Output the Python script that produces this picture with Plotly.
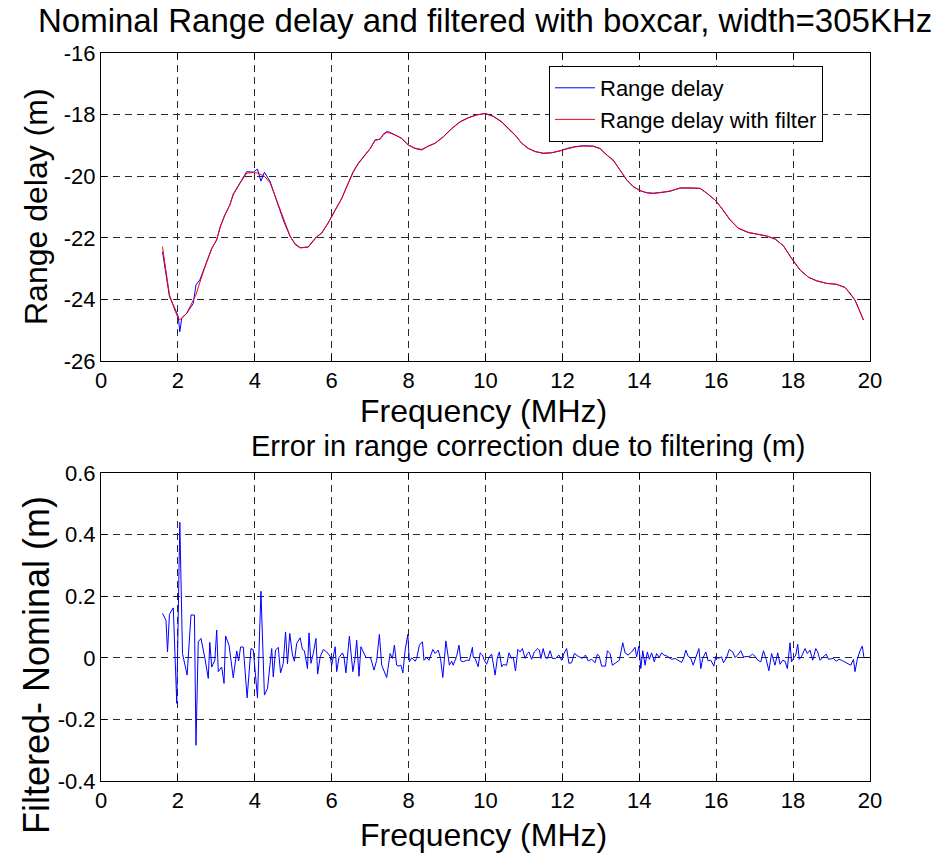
import plotly.graph_objects as go

# ---------------- data ----------------
freq_top = [1.60, 1.78, 1.92, 2.01, 2.05, 2.10, 2.23, 2.40, 2.47, 2.57, 2.70, 2.88, 3.01, 3.10, 3.22,
            3.35, 3.44, 3.61, 3.79, 3.96, 4.07, 4.16, 4.25, 4.40, 4.57, 4.74, 4.92, 5.05, 5.18, 5.39,
            5.48, 5.61, 5.74, 5.91, 6.09, 6.26, 6.39, 6.56, 6.69, 6.87, 7.00, 7.13, 7.26, 7.34, 7.43,
            7.52, 7.65, 7.82, 7.99, 8.17, 8.34, 8.51, 8.69, 8.90, 9.12, 9.34, 9.55, 9.77, 9.99, 10.20,
            10.42, 10.59, 10.77, 10.94, 11.11, 11.29, 11.50, 11.72, 11.94, 12.11, 12.33, 12.54, 12.80,
            12.98, 13.15, 13.32, 13.50, 13.67, 13.84, 14.02, 14.19, 14.36, 14.58, 14.80, 15.06, 15.32,
            15.58, 15.75, 15.97, 16.14, 16.36, 16.57, 16.83, 17.09, 17.31, 17.54, 17.75, 17.96, 18.18,
            18.40, 18.61, 18.87, 19.13, 19.35, 19.48, 19.61, 19.74, 19.83]

range_delay = [-22.45, -23.91, -24.29, -24.56, -25.05, -24.60, -24.45, -24.13, -23.53, -23.37, -22.94,
               -22.34, -22.07, -21.64, -21.26, -20.94, -20.58, -20.23, -19.85, -19.87, -19.77, -20.16,
               -19.87, -20.18, -20.77, -21.42, -21.96, -22.20, -22.32, -22.30, -22.15, -21.96, -21.85,
               -21.51, -21.10, -20.72, -20.34, -19.85, -19.58, -19.31, -19.10, -18.82, -18.80, -18.64,
               -18.55, -18.58, -18.66, -18.77, -18.99, -19.10, -19.15, -19.02, -18.93, -18.72, -18.45,
               -18.23, -18.10, -18.01, -17.96, -18.05, -18.23, -18.45, -18.66, -18.93, -19.10, -19.20,
               -19.26, -19.24, -19.18, -19.10, -19.04, -19.01, -19.02, -19.10, -19.31, -19.47, -19.80,
               -20.12, -20.34, -20.47, -20.54, -20.56, -20.53, -20.49, -20.38, -20.38, -20.39, -20.55,
               -20.77, -21.04, -21.42, -21.69, -21.83, -21.89, -21.94, -22.05, -22.26, -22.67, -23.05,
               -23.28, -23.40, -23.48, -23.51, -23.61, -23.80, -24.02, -24.40, -24.67]

range_delay_filtered = [-22.29, -23.85, -24.35, -24.62, -24.65, -24.62, -24.45, -24.05, -23.85, -23.45,
                        -22.96, -22.36, -22.05, -21.66, -21.27, -20.93, -20.60, -20.24, -19.90, -19.88,
                        -19.90, -19.95, -20.00, -20.22, -20.78, -21.40, -21.95, -22.22, -22.33, -22.30,
                        -22.17, -21.98, -21.84, -21.52, -21.11, -20.73, -20.35, -19.87, -19.60, -19.32,
                        -19.11, -18.84, -18.79, -18.66, -18.58, -18.60, -18.66, -18.78, -18.98, -19.09,
                        -19.13, -19.03, -18.93, -18.73, -18.46, -18.24, -18.11, -18.01, -17.97, -18.06,
                        -18.24, -18.46, -18.67, -18.92, -19.09, -19.20, -19.25, -19.24, -19.18, -19.11,
                        -19.05, -19.02, -19.03, -19.11, -19.31, -19.49, -19.80, -20.11, -20.33, -20.47,
                        -20.53, -20.55, -20.52, -20.48, -20.39, -20.38, -20.40, -20.54, -20.77, -21.03,
                        -21.41, -21.68, -21.82, -21.89, -21.94, -22.04, -22.27, -22.66, -23.04, -23.28,
                        -23.39, -23.48, -23.51, -23.62, -23.79, -24.03, -24.39, -24.67]

freq_err = [1.60, 1.69, 1.73, 1.78, 1.88, 1.97, 2.05, 2.12, 2.24, 2.34, 2.43, 2.47, 2.53, 2.60, 2.70,
            2.79, 2.83, 2.88, 2.96, 3.01, 3.05, 3.14, 3.20, 3.24, 3.33, 3.44, 3.53, 3.58, 3.63, 3.70,
            3.80, 3.90, 3.96, 4.07, 4.16, 4.25, 4.33, 4.44, 4.48, 4.54, 4.61, 4.67, 4.74, 4.80, 4.85,
            4.91, 4.98, 5.03, 5.09, 5.18, 5.24, 5.29, 5.37, 5.41, 5.46, 5.52, 5.59, 5.635, 5.70, 5.78,
            5.87, 5.96, 6.00, 6.09, 6.13, 6.19, 6.28, 6.32, 6.37, 6.46, 6.55, 6.61, 6.65, 6.71, 6.76,
            6.82, 6.89, 6.95, 7.01, 7.10, 7.17, 7.24, 7.30, 7.43, 7.52, 7.58, 7.63, 7.69, 7.75, 7.80,
            7.85, 7.91, 7.98, 8.02, 8.08, 8.17, 8.21, 8.28, 8.36, 8.40, 8.47, 8.53, 8.63, 8.69, 8.77,
            8.83, 8.89, 8.97, 9.06, 9.12, 9.16, 9.25, 9.31, 9.36, 9.42, 9.51, 9.58, 9.66, 9.68, 9.73,
            9.81, 9.86, 9.92, 9.96, 10.03, 10.09, 10.16, 10.25, 10.31, 10.36, 10.42, 10.46, 10.55,
            10.61, 10.68, 10.72, 10.78, 10.84, 10.90, 10.96, 11.03, 11.09, 11.13, 11.20, 11.27, 11.36,
            11.40, 11.44, 11.50, 11.56, 11.61, 11.68, 11.74, 11.82, 11.91, 11.98, 12.04, 12.11, 12.17,
            12.24, 12.31, 12.41, 12.52, 12.60, 12.67, 12.76, 12.85, 12.91, 12.96, 13.02, 13.12, 13.17,
            13.24, 13.30, 13.38, 13.48, 13.57, 13.63, 13.71, 13.80, 13.89, 13.93, 13.99, 14.04, 14.09,
            14.15, 14.21, 14.26, 14.32, 14.39, 14.45, 14.52, 14.58, 14.64, 14.73, 14.84, 14.93, 15.01,
            15.10, 15.16, 15.21, 15.27, 15.34, 15.40, 15.47, 15.55, 15.60, 15.65, 15.73, 15.79, 15.86,
            15.94, 15.99, 16.05, 16.14, 16.19, 16.27, 16.34, 16.43, 16.49, 16.56, 16.64, 16.71, 16.79,
            16.88, 16.94, 17.01, 17.08, 17.16, 17.23, 17.30, 17.37, 17.44, 17.53, 17.60, 17.66, 17.73,
            17.79, 17.85, 17.92, 17.96, 18.01, 18.07, 18.12, 18.16, 18.22, 18.31, 18.37, 18.44, 18.51,
            18.59, 18.64, 18.70, 18.77, 18.86, 18.92, 18.99, 19.05, 19.12, 19.19, 19.26, 19.33, 19.42,
            19.50, 19.57, 19.61, 19.67, 19.74, 19.80, 19.84]

err = [0.144, 0.122, 0.019, 0.141, 0.162, -0.148, 0.440, 0.014, -0.056, 0.139, 0.139, -0.284, 0.052,
       0.063, 0.000, -0.067, 0.050, -0.030, -0.008, 0.090, -0.045, -0.030, -0.083, 0.071, 0.041, -0.065,
       0.022, -0.010, 0.035, 0.035, -0.130, 0.030, 0.026, -0.130, 0.216, -0.121, -0.100, 0.030, -0.062,
       0.025, 0.034, -0.049, -0.018, 0.084, -0.020, 0.079, 0.009, -0.011, 0.047, 0.065, 0.027, 0.023,
       -0.035, 0.081, -0.018, 0.014, 0.063, -0.053, 0.003, 0.027, 0.019, 0.005, -0.024, 0.036, -0.045,
       0.001, 0.016, 0.003, -0.049, 0.070, -0.045, 0.001, 0.057, -0.060, 0.036, 0.019, 0.001, 0.001,
       0.001, -0.040, -0.008, 0.076, -0.024, -0.064, 0.014, -0.002, 0.041, -0.024, -0.027, -0.024,
       -0.049, 0.025, 0.076, -0.013, 0.000, -0.011, -0.002, 0.041, 0.052, -0.008, 0.001, -0.008, 0.027,
       0.014, 0.025, -0.002, -0.064, 0.055, -0.024, -0.011, -0.024, 0.005, 0.041, -0.010, -0.013,
       -0.008, -0.008, 0.034, 0.003, -0.002, -0.029, 0.016, 0.009, -0.005, -0.021, 0.001, 0.012,
       -0.056, 0.001, 0.019, -0.029, -0.022, -0.024, 0.016, -0.002, 0.003, -0.043, 0.027, 0.019, 0.030,
       -0.002, 0.014, 0.019, -0.005, 0.019, 0.030, 0.025, -0.002, 0.030, 0.000, -0.002, 0.023, -0.002,
       -0.002, 0.009, -0.008, 0.014, 0.030, -0.018, -0.016, 0.014, 0.005, -0.002, 0.009, -0.010, -0.005,
       -0.016, 0.012, 0.005, -0.027, -0.027, 0.023, 0.014, -0.024, -0.018, -0.008, 0.049, 0.016, 0.009,
       0.019, 0.034, 0.003, 0.038, -0.035, 0.023, -0.024, 0.019, -0.005, 0.016, -0.013, 0.014, 0.001,
       0.016, 0.009, 0.005, -0.005, -0.002, -0.008, -0.015, 0.001, 0.025, 0.005, -0.002, -0.024, 0.005,
       0.030, -0.035, -0.002, 0.019, -0.010, -0.008, -0.027, 0.005, -0.002, 0.003, -0.016, 0.001, 0.027,
       0.019, 0.001, 0.009, 0.023, 0.003, 0.003, 0.005, 0.012, 0.005, -0.008, -0.013, 0.023, -0.005,
       -0.042, 0.014, -0.024, 0.016, -0.021, -0.008, -0.011, -0.035, 0.049, -0.013, -0.002, 0.009, 0.044,
       -0.005, 0.005, 0.030, 0.014, 0.025, -0.008, 0.030, 0.019, -0.008, 0.001, 0.012, -0.005, -0.002,
       -0.002, -0.011, -0.005, -0.008, -0.013, -0.018, -0.024, -0.005, -0.045, -0.005, 0.023, 0.038,
       0.003]

x_tickvals = [0, 2, 4, 6, 8, 10, 12, 14, 16, 18, 20]
x_ticktext = ["0", "2", "4", "6", "8", "10", "12", "14", "16", "18", "20"]
y1_tickvals = [-26, -24, -22, -20, -18, -16]
y1_ticktext = ["-26", "-24", "-22", "-20", "-18", "-16"]
y2_tickvals = [-0.4, -0.2, 0, 0.2, 0.4, 0.6]
y2_ticktext = ["-0.4", "-0.2", "0", "0.2", "0.4", "0.6"]

# ---------------- figure ----------------
W, H = 934, 853
FONT = "Liberation Sans, Arial, sans-serif"

def px_x(p):
    return p / W

def px_y(p):
    return 1 - p / H

fig = go.Figure()
fig.add_trace(go.Scatter(x=freq_top, y=range_delay, mode="lines", name="Range delay",
                         line=dict(color="#0000FF", width=1), xaxis="x", yaxis="y"))
fig.add_trace(go.Scatter(x=freq_top, y=range_delay_filtered, mode="lines", name="Range delay with filter",
                         line=dict(color="#FF0000", width=1), xaxis="x", yaxis="y"))
fig.add_trace(go.Scatter(x=freq_err, y=err, mode="lines", showlegend=False,
                         line=dict(color="#0000FF", width=1), xaxis="x2", yaxis="y2"))

axis_common = dict(showline=True, linecolor="black", linewidth=1, mirror="ticks",
                   ticks="inside", ticklen=6, tickcolor="black", automargin=False,
                   showgrid=True, gridcolor="#2a2a2a", gridwidth=1, griddash="7px,5px",
                   zeroline=False, tickfont=dict(family=FONT, size=22, color="black"))

xdom = [px_x(101), px_x(870)]
fig.update_layout(
    width=W, height=H,
    margin=dict(l=0, r=0, t=0, b=0, autoexpand=False),
    paper_bgcolor="white", plot_bgcolor="white",
    font=dict(family=FONT, color="black"),
    xaxis=dict(domain=xdom, range=[0, 20], tickvals=x_tickvals, ticktext=x_ticktext,
               anchor="y", **axis_common),
    yaxis=dict(domain=[px_y(361), px_y(53)], range=[-26, -16], tickvals=y1_tickvals,
               ticktext=y1_ticktext, anchor="x", **axis_common),
    xaxis2=dict(domain=xdom, range=[0, 20], tickvals=x_tickvals, ticktext=x_ticktext,
                anchor="y2", **axis_common),
    yaxis2=dict(domain=[px_y(781), px_y(473)], range=[-0.4, 0.6], tickvals=y2_tickvals,
                ticktext=y2_ticktext, anchor="x2", **axis_common),
    legend=dict(x=px_x(549), y=px_y(66), xanchor="left", yanchor="top",
                bgcolor="white", bordercolor="black", borderwidth=1,
                font=dict(family=FONT, size=22, color="black"),
                tracegroupgap=0, itemwidth=40),
    showlegend=True,
)

annots = [
    dict(text="Nominal Range delay and filtered with boxcar, width=305KHz", x=px_x(485), y=px_y(20),
         size=33),
    dict(text="Frequency (MHz)", x=px_x(483), y=px_y(411), size=32),
    dict(text="Error in range correction due to filtering (m)", x=px_x(528), y=px_y(446), size=29),
    dict(text="Frequency (MHz)", x=px_x(483), y=px_y(835), size=32),
]
for a in annots:
    fig.add_annotation(text=a["text"], x=a["x"], y=a["y"], xref="paper", yref="paper",
                       xanchor="center", yanchor="middle", showarrow=False,
                       font=dict(family=FONT, size=a["size"], color="black"))

fig.add_annotation(text="Range delay (m)", x=px_x(36), y=px_y(207), xref="paper", yref="paper",
                   xanchor="center", yanchor="middle", showarrow=False, textangle=-90,
                   font=dict(family=FONT, size=32, color="black"))
fig.add_annotation(text="Filtered- Nominal (m)", x=px_x(36), y=px_y(665), xref="paper", yref="paper",
                   xanchor="center", yanchor="middle", showarrow=False, textangle=-90,
                   font=dict(family=FONT, size=36, color="black"))

fig.write_html("out.html")
